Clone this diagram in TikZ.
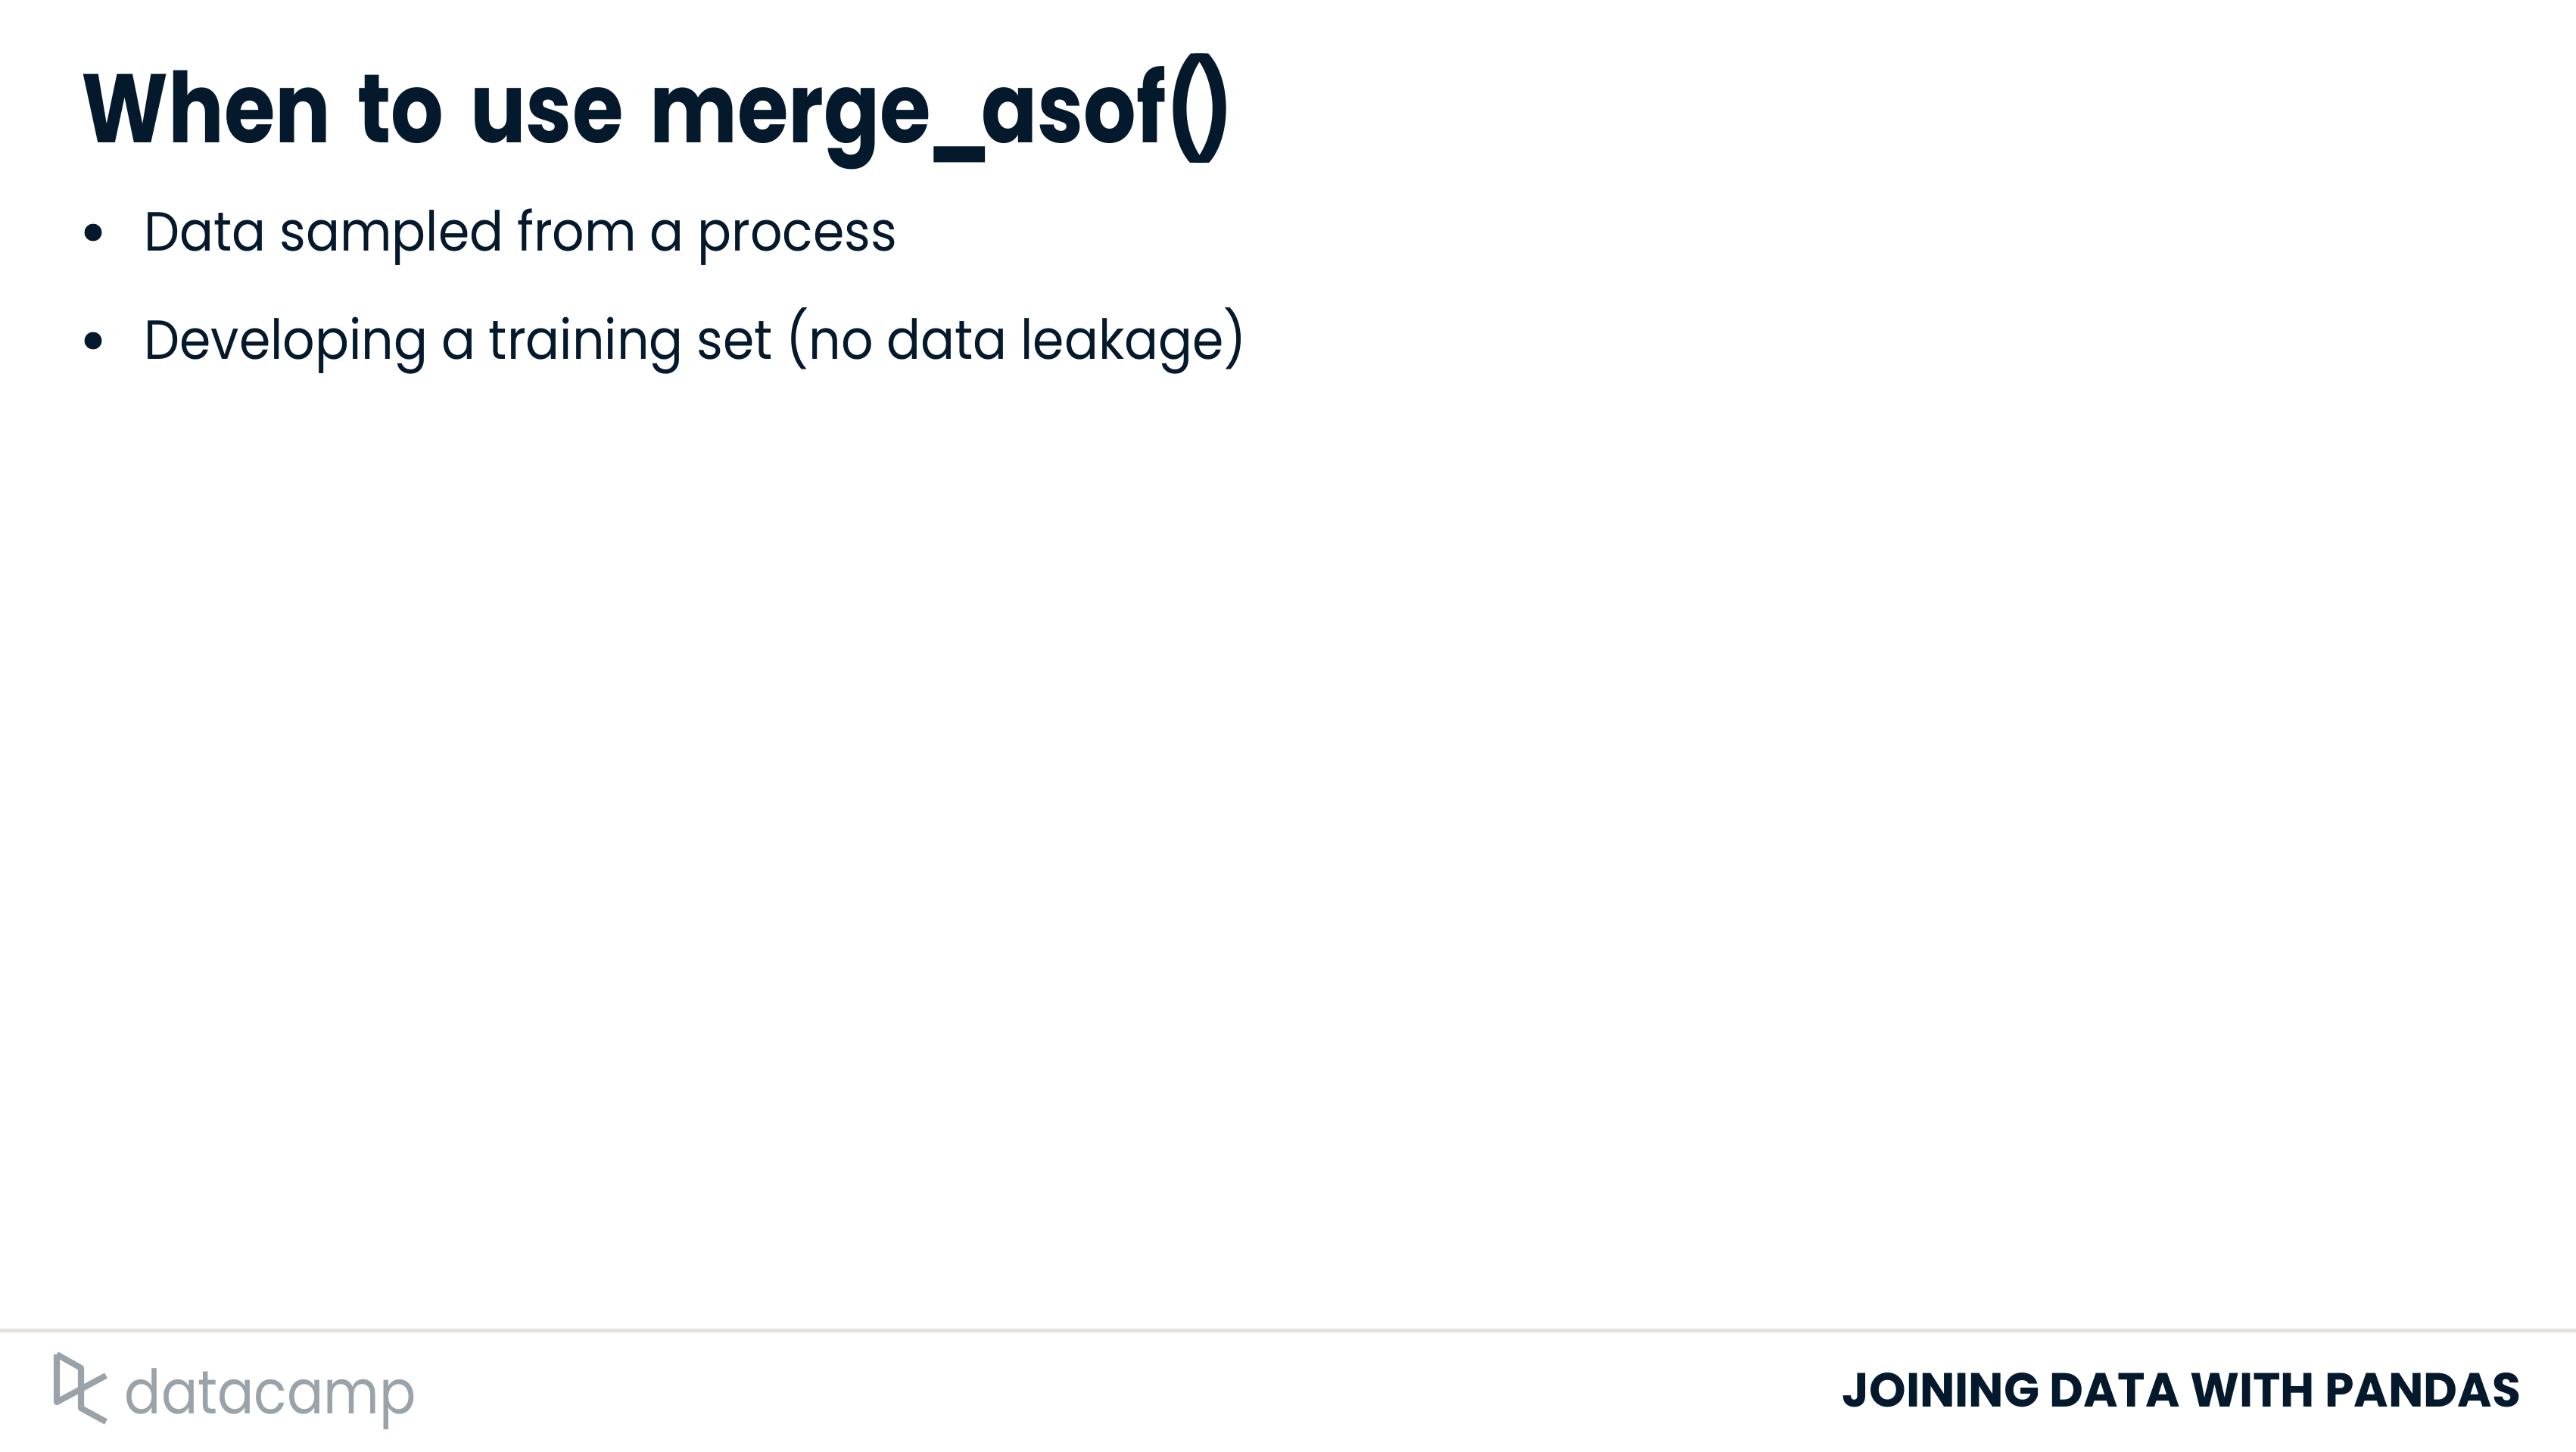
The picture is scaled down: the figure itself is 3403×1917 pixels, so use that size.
\documentclass[tikz,border=0pt]{standalone}
\usepackage{xcolor}
\usepackage{fontspec}
\setmainfont{Poppins}
\newfontfamily\TitleFont[FakeStretch=.85,WordSpace=1.5]{Poppins}
\newfontfamily\ItemFont[FakeStretch=.914]{Poppins}
\newfontfamily\FootFont[FakeStretch=.976]{Poppins}
\newfontfamily\LogoFont[FakeStretch=.884]{Poppins}
\definecolor{Col1}{RGB}{5,25,45}
\definecolor{Col2}{RGB}{155,163,170}
\definecolor{Col3}{RGB}{229,225,218}
\tikzstyle{NodeTitle}=[anchor=base west,inner sep=0pt,text=Col1,
font=\TitleFont\fontsize{36.6}{40}\selectfont\bfseries]
\tikzstyle{NodeItem}=[anchor=base west,inner sep=0pt,text=Col1,
font=\ItemFont\fontsize{20.7}{24}\selectfont]
\tikzstyle{NodeFoot}=[anchor=base west,inner sep=0pt,text=Col1,
font=\FootFont\fontsize{18}{22}\selectfont\bfseries]
\tikzstyle{NodeLogo}=[anchor=base west,inner sep=0pt,text=Col2,
font=\LogoFont\fontsize{23}{26}\selectfont]
\tikzstyle{NodeDot}=[circle,fill=Col1,inner sep=0pt,minimum size=0.23cm]
\tikzstyle{Edge}=[draw=Col2,line width=0.08cm,line join=round]
\begin{document}
\begin{tikzpicture}[x=0.01cm,y=-0.01cm]
            \useasboundingbox(0,0)rectangle(3403,1917);
            \node[NodeTitle](title)at(107,188)
                {When to use merge\kern-.04em\_\kern-.11em asof(\kern-.12em)};
            \node[NodeDot](dot1)at(123,307){};
            \node[NodeItem](item1)at(190,331){Data sampled from a process};
            \node[NodeDot](dot2)at(123,450){};
            \node[NodeItem](item2)at(190,474){Developing a training set (no data leakage)};
            %
            \draw[draw=Col3,line width=0.05cm](0,1757)--(3403,1757);
            \draw[Edge](75,1789)--(107,1807)--(107,1860)--(140,1878);
            \draw[Edge](75,1789)--(75,1852)--(140,1817);
            \node[NodeLogo](logo)at(164,1867){datacamp};
            \node[NodeFoot](foot)at(2433,1858){JOINING DATA WITH PANDAS};
        \end{tikzpicture}
\end{document}
